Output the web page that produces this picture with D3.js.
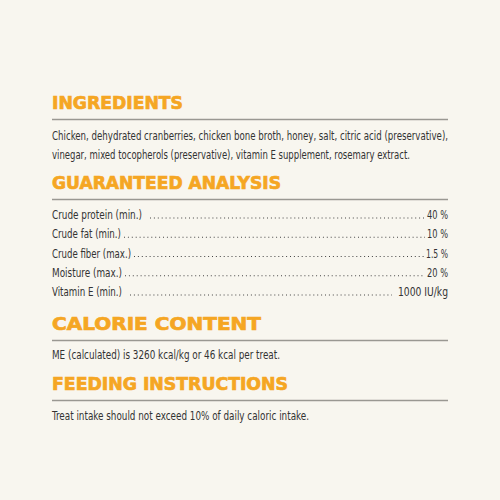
<!DOCTYPE html>
<html><head><meta charset="utf-8">
<script src="https://cdn.jsdelivr.net/npm/d3@7"></script>
<style>body{margin:0;background:#f8f6ef}</style>
</head><body>
<svg id="card" width="500" height="500"></svg>
<script>
const headings = ["INGREDIENTS", "GUARANTEED ANALYSIS", "CALORIE CONTENT", "FEEDING INSTRUCTIONS"];
const headingWidths = [131, 229, 209, 236];
const ingredientLines = [
  "Chicken, dehydrated cranberries, chicken bone broth, honey, salt, citric acid (preservative),",
  "vinegar, mixed tocopherols (preservative), vitamin E supplement, rosemary extract."
];
const ingredientWidths = [396, 358];
const analysisLabels = ["Crude protein (min.)", "Crude fat (min.)", "Crude fiber (max.)", "Moisture (max.)", "Vitamin E (min.)"];
const analysisLabelWidths = [90, 69, 79, 70, 70];
const analysisValues = ["40 %", "10 %", "1.5 %", "20 %", "1000 IU/kg"];
const analysisValueWidths = [21, 21, 22, 21, 50];
const calorieText = "ME (calculated) is 3260 kcal/kg or 46 kcal per treat.";
const feedingText = "Treat intake should not exceed 10% of daily caloric intake.";

const left = 52, right = 448;
const svg = d3.select("#card");
svg.append("rect").attr("width", 500).attr("height", 500).attr("fill", "#f8f6ef");

const headY = [109, 189, 330, 390];
const bodyFont = "'DejaVu Sans Condensed','Open Sans',sans-serif";

headings.forEach((h, i) => {
  svg.append("text").attr("x", left).attr("y", headY[i])
    .attr("font-family", "'DejaVu Sans',sans-serif").attr("font-weight", "bold")
    .attr("font-size", 17).attr("fill", "#f5a623")
    .attr("stroke", "#f5a623").attr("stroke-width", 0.7)
    .attr("textLength", headingWidths[i]).attr("lengthAdjust", "spacingAndGlyphs")
    .text(h);
  svg.append("line").attr("x1", left).attr("x2", right)
    .attr("y1", headY[i] + 10.5).attr("y2", headY[i] + 10.5)
    .attr("stroke", "#9a9892").attr("stroke-width", 1.6);
});

function body(str, y, w, anchorEnd) {
  const t = svg.append("text").attr("x", anchorEnd ? right : left).attr("y", y)
    .attr("text-anchor", anchorEnd ? "end" : "start")
    .attr("font-family", bodyFont).attr("font-size", 12).attr("fill", "#333")
    .attr("textLength", w).attr("lengthAdjust", "spacingAndGlyphs")
    .text(str);
  return t;
}

ingredientLines.forEach((l, i) => body(l, 140 + i * 18.5, ingredientWidths[i]));

const rowY = d3.scalePoint().domain(d3.range(analysisLabels.length)).range([219, 296]);
analysisLabels.forEach((lab, i) => {
  const y = rowY(i);
  body(lab, y, analysisLabelWidths[i]);
  body(analysisValues[i], y, analysisValueWidths[i], true);
  const x0 = left + analysisLabelWidths[i] + (i === 0 || i === 4 ? 8 : 3);
  const x1 = right - analysisValueWidths[i] - (i === 4 ? 6 : 2);
  svg.append("line").attr("x1", x0).attr("x2", x1).attr("y1", y - 1).attr("y2", y - 1)
    .attr("stroke", "#444").attr("stroke-width", 1.1)
    .attr("stroke-dasharray", "1,2.9");
});

body(calorieText, 359, 228);
body(feedingText, 420, 257);
</script>
</body></html>
